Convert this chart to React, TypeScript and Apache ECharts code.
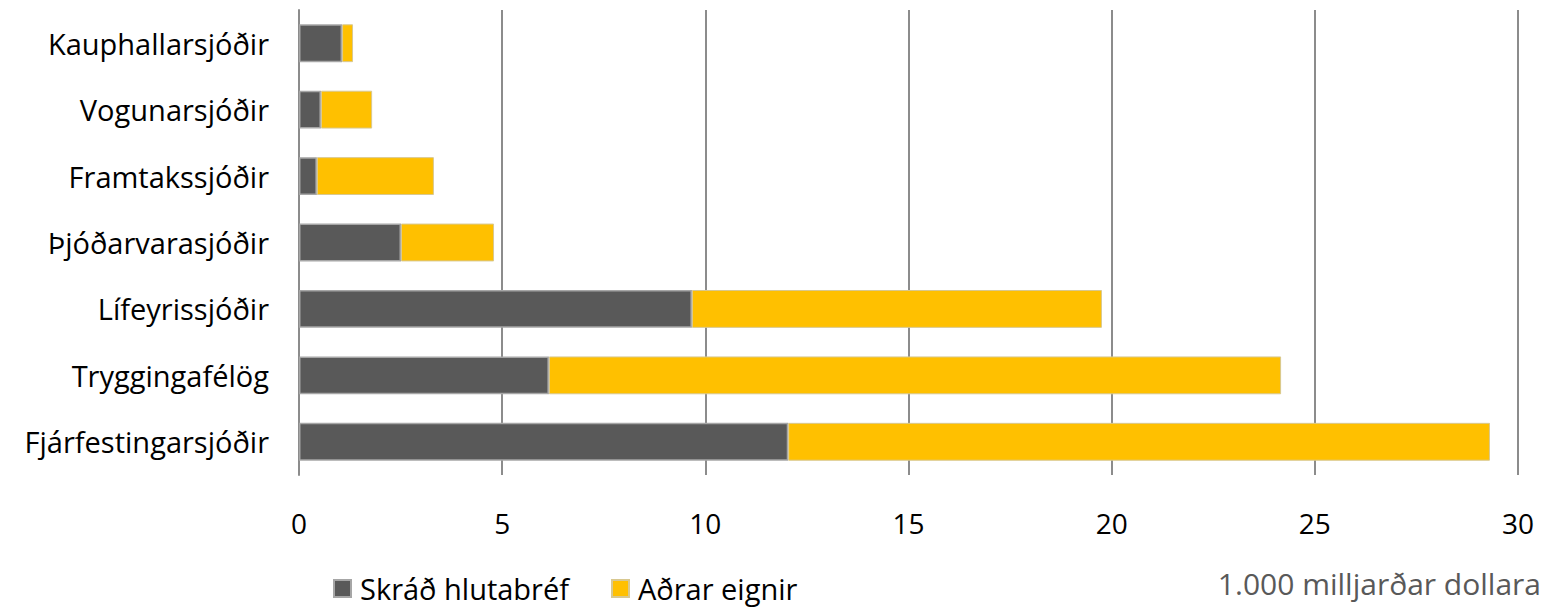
import React, { useEffect, useRef } from "react";
import * as echarts from "echarts";

const categories = [
  "Kauphallarsjóðir",
  "Vogunarsjóðir",
  "Framtakssjóðir",
  "Þjóðarvarasjóðir",
  "Lífeyrissjóðir",
  "Tryggingafélög",
  "Fjárfestingarsjóðir",
];
const listedEquity = [1.06, 0.54, 0.44, 2.51, 9.67, 6.15, 12.04];
const otherAssets = [0.27, 1.26, 2.88, 2.29, 10.09, 18.02, 17.27];
const seriesNames = ["Skráð hlutabréf", "Aðrar eignir"];
const unitLabel = "1.000 milljarðar dollara";

const FONT = "'Open Sans', 'Noto Sans', sans-serif";

export default function App() {
  const ref = useRef<HTMLDivElement>(null);
  useEffect(() => {
    if (!ref.current) return;
    const chart = echarts.init(ref.current, undefined, { renderer: "svg" });
    chart.setOption({
      animation: false,
      textStyle: { fontFamily: FONT },
      grid: { left: 299, right: 29, top: 10, bottom: 135 },
      xAxis: {
        type: "value",
        min: 0,
        max: 30,
        interval: 5,
        axisLine: { show: false },
        axisTick: { show: false },
        splitLine: { show: true, lineStyle: { color: "#8c8c8c", width: 2 } },
        axisLabel: { fontSize: 28, color: "#000", margin: 34, fontFamily: FONT },
      },
      yAxis: {
        type: "category",
        data: categories,
        inverse: true,
        axisLine: { show: true, lineStyle: { color: "#8c8c8c", width: 2 } },
        axisTick: { show: false },
        axisLabel: { fontSize: 29, color: "#000", margin: 30, fontFamily: FONT },
      },
      legend: {
        left: 328,
        top: 569,
        itemWidth: 17,
        itemHeight: 17,
        itemGap: 42,
        icon: "rect",
        textStyle: { fontSize: 29, color: "#000", fontFamily: FONT, padding: [0, 0, 0, 4] },
        data: seriesNames,
      },
      graphic: [
        {
          type: "text",
          right: 6,
          top: 568,
          style: { text: unitLabel, fontSize: 30, fill: "#595959", fontFamily: FONT },
        },
      ],
      series: [
        {
          name: seriesNames[0],
          type: "bar",
          stack: "total",
          data: listedEquity,
          barCategoryGap: "43%",
          itemStyle: { color: "#595959", borderColor: "#a6a6a6", borderWidth: 1.5 },
        },
        {
          name: seriesNames[1],
          type: "bar",
          stack: "total",
          data: otherAssets,
          barCategoryGap: "43%",
          itemStyle: { color: "#FFC000", borderColor: "#d8c890", borderWidth: 1 },
        },
      ],
    });
    return () => chart.dispose();
  }, []);
  return (
    <div
      ref={ref}
      style={{ position: "fixed", left: 0, top: 0, width: 1547, height: 610, background: "#fff" }}
    />
  );
}
